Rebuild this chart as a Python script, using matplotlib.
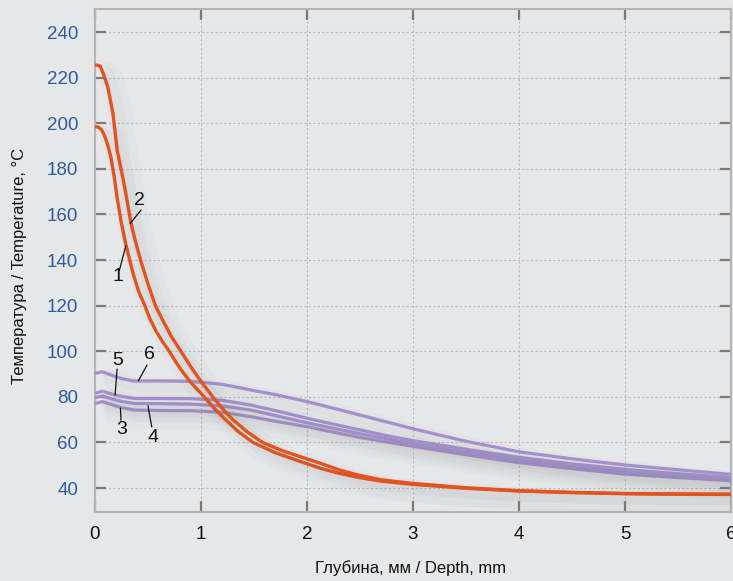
import matplotlib
matplotlib.use("Agg")
import matplotlib.pyplot as plt
import matplotlib.patheffects as pe

plt.rcParams['font.family'] = ['Liberation Sans', 'DejaVu Sans']

# глубина (мм) / температура (°C)
x1 = [0, 0.03, 0.06, 0.09, 0.12, 0.15, 0.18, 0.21, 0.25, 0.29, 0.33, 0.36, 0.41, 0.47, 0.52, 0.58,
      0.64, 0.70, 0.76, 0.81, 0.9, 1.03, 1.12, 1.22, 1.35, 1.49, 1.7, 1.94, 2.13, 2.3, 2.48, 2.7,
      3.0, 3.5, 4.0, 4.5, 5.0, 5.5, 6.0]
t1 = [198.5, 198.3, 197.3, 194.5, 190.5, 185, 177, 167, 156, 147, 139.5, 134, 126.5, 120, 114, 108.5,
      104, 100, 95.5, 92, 86.5, 80, 75.2, 70.5, 64.8, 60, 55.5, 51.6, 48.6, 46.5, 44.7, 43,
      41.6, 39.9, 38.7, 38, 37.5, 37.3, 37.2]

x2 = [0, 0.03, 0.05, 0.08, 0.12, 0.15, 0.17, 0.19, 0.21, 0.25, 0.28, 0.31, 0.34, 0.38, 0.43, 0.5,
      0.57, 0.64, 0.72, 0.81, 0.9, 0.98, 1.11, 1.2, 1.3, 1.44, 1.58, 1.76, 1.94, 2.13, 2.3, 2.48,
      2.7, 3.0, 3.5, 4.0, 4.5, 5.0, 5.5, 6.0]
t2 = [225.5, 225.4, 225, 221.5, 216, 209, 204, 196, 188, 179, 172, 164, 156, 148.5, 140, 129.5,
      120, 113.5, 106.5, 100, 93.5, 88, 80, 75, 70, 64.5, 60, 56.5, 53.7, 50.8, 48, 45.7,
      43.6, 42, 40.1, 38.8, 38.1, 37.6, 37.4, 37.3]

xp = [0, 0.07, 0.15, 0.25, 0.37, 0.6, 0.9, 1.2, 1.47, 1.7, 2.0, 2.25, 2.5, 2.75, 3.0, 3.5, 4.0,
      4.5, 5.0, 5.5, 6.0]
t3 = [77.1, 77.9, 76.7, 75.3, 74.2, 74.0, 73.9, 73.2, 71.3, 69.3, 66.9, 64.5, 62.2, 60.2, 58.3,
      54.6, 51.1, 48.5, 46.1, 44.6, 43.2]
t4 = [79.6, 80.4, 79.2, 78.0, 77.1, 77.0, 76.8, 76.0, 74.2, 71.8, 68.6, 66.2, 63.8, 61.6, 59.5,
      55.8, 52.3, 49.6, 47.2, 45.4, 43.8]
t5 = [81.5, 82.5, 81.3, 80.2, 79.3, 79.3, 79.2, 78.5, 76.4, 74.0, 70.6, 68.0, 65.5, 63.0, 60.8,
      57.0, 53.5, 50.6, 48.2, 46.3, 44.7]
t6 = [90.3, 91.0, 89.6, 88.0, 86.9, 87.0, 86.8, 85.5, 83.0, 81.0, 77.9, 75.0, 72.0, 69.0, 66.0,
      60.5, 55.9, 52.8, 50.1, 48.0, 46.0]

# номер кривой: (текст x, y), (линия от), (линия до)
labels = {
    '1': ((0.22, 132.7), (0.23, 135.5), (0.29, 146.1)),
    '2': ((0.415, 166.3), (0.434, 161.9), (0.333, 156.1)),
    '3': ((0.25, 65.5), (0.245, 69.8), (0.24, 75.0)),
    '4': ((0.55, 62.0), (0.535, 66.9), (0.50, 76.0)),
    '5': ((0.214, 96.0), (0.208, 92.1), (0.19, 80.8)),
    '6': ((0.51, 98.5), (0.49, 93.9), (0.41, 87.1)),
}

bg = '#e6e7e9'
red = '#e2531f'
purple = '#a390cc'

fig = plt.figure(figsize=(7.33, 5.81), dpi=100, facecolor=bg)
ax = fig.add_axes([0.1296, 0.1188, 0.8677, 0.8657], facecolor=bg)

shadow = [pe.SimpleLineShadow(offset=(7, -6), shadow_color='#7a7a7a', alpha=0.03, linewidth=16),
          pe.SimpleLineShadow(offset=(5, -4), shadow_color='#7a7a7a', alpha=0.035, linewidth=8),
          pe.Normal()]

for t in [t3, t4, t5, t6]:
    ax.plot(xp, t, color=purple, lw=2.3, solid_joinstyle='round', solid_capstyle='butt',
            path_effects=shadow, zorder=3)
for x, t in [(x1, t1), (x2, t2)]:
    ax.plot(x, t, color=red, lw=2.4, solid_joinstyle='round', solid_capstyle='butt',
            path_effects=shadow, zorder=4)

for name, (pos, a, b) in labels.items():
    ax.text(pos[0], pos[1], name, fontsize=14, ha='center', va='center', color='#111111', zorder=6)
    ax.plot([a[0], b[0]], [a[1], b[1]], color='#111111', lw=0.9, zorder=6)

ax.set_xlim(0, 6)
ax.set_ylim(29.5, 250.1)
ax.set_xticks(range(0, 7))
ax.set_yticks(range(40, 241, 20))
ax.grid(True, color='#bcbcbc', linestyle=(0, (2, 2)), linewidth=0.8)
ax.set_axisbelow(True)

ax.tick_params(axis='both', direction='in', length=8, width=1.6, color='#7a7a7a',
               top=True, right=True, labelsize=13.5)
ax.tick_params(axis='y', pad=12, labelcolor='#2f5c9e')
ax.tick_params(axis='x', pad=10, labelcolor='#111111')
for s in ax.spines.values():
    s.set_color('#b4b4b4')
    s.set_linewidth(1.5)

fig.text(20 / 733, 1 - 266 / 581, 'Температура / Temperature, °C', rotation=90,
         ha='center', va='center', fontsize=12, color='#111111')
fig.text(411 / 733, 1 - 568 / 581, 'Глубина, мм / Depth, mm',
         ha='center', va='center', fontsize=12, color='#111111')

fig.savefig('out.png', dpi=100, facecolor=bg)
